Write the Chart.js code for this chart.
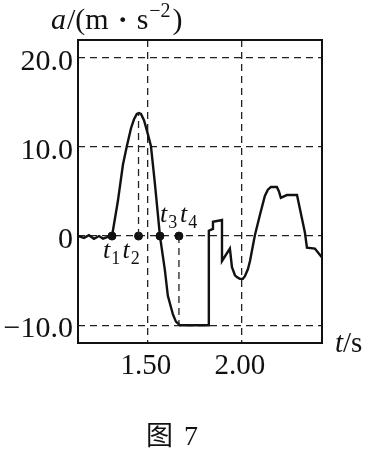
<!DOCTYPE html>
<html>
<head>
<meta charset="utf-8">
<script src="https://cdn.jsdelivr.net/npm/chart.js@4.4.0/dist/chart.umd.min.js"></script>
<style>
  html, body { margin: 0; padding: 0; background: #fff; }
</style>
</head>
<body>
<canvas id="accChart" width="369" height="449"></canvas>
<script>
// a(t) curve
const times = [1.128, 1.160, 1.186, 1.213, 1.240, 1.261, 1.287, 1.309, 1.340, 1.367,
  1.388, 1.410, 1.426, 1.441, 1.452, 1.463, 1.479, 1.495, 1.516, 1.537,
  1.564, 1.590, 1.606, 1.633, 1.649, 1.670, 1.824, 1.824, 1.846, 1.846,
  1.894, 1.894, 1.936, 1.947, 1.963, 1.973, 1.989, 2.005, 2.016, 2.032,
  2.043, 2.069, 2.096, 2.122, 2.138, 2.154, 2.186, 2.197, 2.207, 2.239,
  2.293, 2.335, 2.346, 2.388, 2.426];
const accel = [0.0, -0.2, 0.1, -0.3, 0.0, -0.3, -0.1, 0.0, 3.9, 8.0,
  10.1, 12.1, 13.1, 13.7, 13.8, 13.7, 13.0, 11.8, 10.1, 5.9,
  0.0, -3.8, -6.7, -8.8, -9.6, -10.0, -10.0, 0.6, 0.8, 1.6,
  1.8, -2.8, -1.4, -3.5, -4.4, -4.6, -4.8, -4.8, -4.5, -3.7,
  -2.8, 0.1, 2.4, 4.5, 5.2, 5.5, 5.5, 5.0, 4.3, 4.6,
  4.6, 0.4, -1.3, -1.4, -2.4];

const markerTimes = [1.309, 1.450, 1.564, 1.665];
const markerSubs = ['1', '2', '3', '4'];

const xTicks = [1.5, 2.0];
const xTickLabels = ['1.50', '2.00'];
const yTicks = [-10, 0, 10, 20];
const yTickLabels = ['−10.0', '0', '10.0', '20.0'];

const serif = '"Liberation Serif", "DejaVu Serif", serif';
const peakA = Math.max(...accel);
const floorA = Math.min(...accel);

const curve = times.map((t, i) => ({ x: t, y: accel[i] }));
const markers = markerTimes.map(t => ({ x: t, y: 0 }));

const decor = {
  id: 'decor',
  afterDraw(chart) {
    const ctx = chart.ctx;
    const area = chart.chartArea;
    const xs = chart.scales.x, ys = chart.scales.y;
    ctx.save();
    ctx.strokeStyle = '#111';
    ctx.lineWidth = 2;
    ctx.strokeRect(area.left, area.top, area.right - area.left, area.bottom - area.top);

    ctx.fillStyle = '#111';
    ctx.textAlign = 'left';
    ctx.textBaseline = 'alphabetic';

    // t1..t4 labels
    const y0 = ys.getPixelForValue(0);
    const dx = [-9, -16, 0, 1];
    markerTimes.forEach((t, i) => {
      const px = xs.getPixelForValue(t) + dx[i];
      const below = i < 2;
      const base = below ? y0 + 22 : y0 - 14;
      ctx.font = 'italic 26px ' + serif;
      ctx.fillText('t', px, base);
      const w = ctx.measureText('t').width;
      ctx.font = '18px ' + serif;
      ctx.fillText(markerSubs[i], px + w + 1, base + 6);
    });

    // y axis title a/(m·s^-2)
    let x = 51;
    const by = 29;
    ctx.font = 'italic 30px ' + serif;
    ctx.fillText('a', x, by);
    x += ctx.measureText('a').width + 1;
    ctx.font = '30px ' + serif;
    ctx.fillText('/(m', x, by);
    x += ctx.measureText('/(m').width + 9;
    ctx.font = 'bold 30px ' + serif;
    ctx.fillText('·', x, by);
    x += ctx.measureText('·').width + 9;
    ctx.font = '30px ' + serif;
    ctx.fillText('s', x, by);
    x += ctx.measureText('s').width;
    ctx.font = '20px ' + serif;
    ctx.fillText('−2', x + 1, by - 12);
    x += ctx.measureText('−2').width + 3;
    ctx.font = '30px ' + serif;
    ctx.fillText(')', x, by);

    // x axis title t/s
    ctx.font = 'italic 29px ' + serif;
    ctx.fillText('t', 335, 352);
    const tw = ctx.measureText('t').width;
    ctx.font = '29px ' + serif;
    ctx.fillText('/s', 335 + tw, 352);

    // caption
    ctx.font = '27px "Noto Sans CJK SC"';
    ctx.fillText('图', 146, 445);
    ctx.font = '28px ' + serif;
    ctx.fillText('7', 184, 445);
    ctx.restore();
  }
};

const dashLine = {
  borderColor: '#222',
  borderWidth: 1.3,
  borderDash: [7, 5],
  pointRadius: 0,
  fill: false
};

new Chart(document.getElementById('accChart'), {
  type: 'line',
  data: {
    datasets: [
      Object.assign({ data: [{ x: markerTimes[1], y: 0 }, { x: markerTimes[1], y: peakA }] }, dashLine),
      Object.assign({ data: [{ x: markerTimes[3], y: 0 }, { x: markerTimes[3], y: floorA }] }, dashLine),
      {
        data: curve,
        borderColor: '#111',
        borderWidth: 2.4,
        pointRadius: 0,
        tension: 0,
        fill: false
      },
      {
        data: markers,
        showLine: false,
        pointRadius: 4,
        pointBackgroundColor: '#111',
        pointBorderColor: '#111'
      }
    ]
  },
  options: {
    responsive: false,
    animation: false,
    devicePixelRatio: 1,
    layout: { padding: { top: 40, right: 47, bottom: 46, left: 0 } },
    plugins: { legend: { display: false }, tooltip: { enabled: false } },
    scales: {
      x: {
        type: 'linear',
        min: 1.128,
        max: 2.426,
        afterBuildTicks: s => { s.ticks = xTicks.map(v => ({ value: v })); },
        afterFit: s => { s.height = 60; },
        ticks: {
          callback: v => xTickLabels[xTicks.indexOf(v)],
          font: { family: serif, size: 29 },
          color: '#111',
          padding: 6,
          labelOffset: -2,
          maxRotation: 0,
          autoSkip: false
        },
        grid: { color: '#222', lineWidth: 1.3, drawTicks: false },
        border: { display: false, dash: [7, 5] }
      },
      y: {
        min: -12,
        max: 22,
        afterBuildTicks: s => { s.ticks = yTicks.map(v => ({ value: v })); },
        afterFit: s => { s.width = 78; },
        ticks: {
          callback: v => yTickLabels[yTicks.indexOf(v)],
          font: { family: serif, size: 30 },
          color: '#111',
          padding: 5,
          labelOffset: 4,
          autoSkip: false
        },
        grid: { color: '#222', lineWidth: 1.3, drawTicks: false },
        border: { display: false, dash: [7, 5] }
      }
    }
  },
  plugins: [decor]
});
</script>
</body>
</html>
